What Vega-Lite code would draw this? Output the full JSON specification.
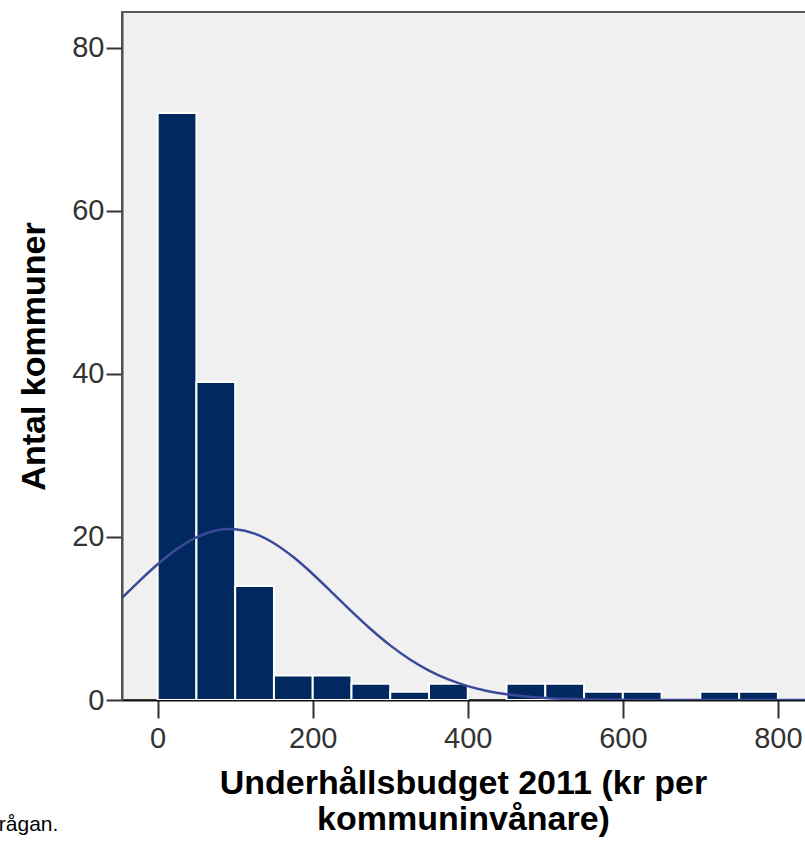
{
  "$schema": "https://vega.github.io/schema/vega-lite/v6.json",
  "width": 690,
  "height": 688,
  "autosize": {"type": "none"},
  "padding": {"left": 122, "top": 12, "right": 0, "bottom": 147},
  "background": "white",
  "config": {
    "view": {"fill": "#f0f0f0", "stroke": "#5c5c5c", "strokeWidth": 2},
    "font": "Liberation Sans"
  },
  "title": {
    "text": "frågan.",
    "orient": "bottom",
    "anchor": "start",
    "frame": "group",
    "dx": -129,
    "offset": -22,
    "fontSize": 21,
    "fontWeight": "normal",
    "color": "#000000"
  },
  "datasets": {
    "bins": [
      {"start": 0, "end": 50, "count": 72},
      {"start": 50, "end": 100, "count": 39},
      {"start": 100, "end": 150, "count": 14},
      {"start": 150, "end": 200, "count": 3},
      {"start": 200, "end": 250, "count": 3},
      {"start": 250, "end": 300, "count": 2},
      {"start": 300, "end": 350, "count": 1},
      {"start": 350, "end": 400, "count": 2},
      {"start": 450, "end": 500, "count": 2},
      {"start": 500, "end": 550, "count": 2},
      {"start": 550, "end": 600, "count": 1},
      {"start": 600, "end": 650, "count": 1},
      {"start": 700, "end": 750, "count": 1},
      {"start": 750, "end": 800, "count": 1}
    ],
    "curve": [
      {"x": -46, "y": 12.53},
      {"x": -25, "y": 14.47},
      {"x": 0, "y": 16.65},
      {"x": 25, "y": 18.54},
      {"x": 50, "y": 19.96},
      {"x": 75, "y": 20.79},
      {"x": 93, "y": 20.97},
      {"x": 100, "y": 20.94},
      {"x": 125, "y": 20.41},
      {"x": 150, "y": 19.23},
      {"x": 175, "y": 17.53},
      {"x": 200, "y": 15.46},
      {"x": 225, "y": 13.18},
      {"x": 250, "y": 10.88},
      {"x": 275, "y": 8.68},
      {"x": 300, "y": 6.7},
      {"x": 325, "y": 5.0},
      {"x": 350, "y": 3.61},
      {"x": 375, "y": 2.52},
      {"x": 400, "y": 1.7},
      {"x": 425, "y": 1.11},
      {"x": 450, "y": 0.7},
      {"x": 475, "y": 0.43},
      {"x": 500, "y": 0.25},
      {"x": 525, "y": 0.145},
      {"x": 550, "y": 0.08},
      {"x": 600, "y": 0.022},
      {"x": 650, "y": 0.005},
      {"x": 700, "y": 0.001},
      {"x": 844, "y": 0}
    ]
  },
  "layer": [
    {
      "data": {"name": "bins"},
      "mark": {"type": "bar", "fill": "#01285f", "stroke": "white", "strokeWidth": 2, "clip": true},
      "encoding": {
        "x": {
          "field": "start",
          "type": "quantitative",
          "scale": {"domain": [-46, 844], "nice": false, "zero": false},
          "axis": {
            "values": [0, 200, 400, 600, 800],
            "grid": false,
            "tickSize": 18,
            "tickWidth": 2,
            "tickColor": "#333333",
            "labelFont": "Liberation Sans",
            "labelFontSize": 29,
            "labelColor": "#333333",
            "labelPadding": 6,
            "labelFlush": false,
            "domainColor": "#111111",
            "domainWidth": 2,
            "title": ["Underhållsbudget 2011 (kr per", "kommuninvånare)"],
            "titleFontSize": 34,
            "titleFontWeight": "bold",
            "titleColor": "#000000",
            "titlePadding": 13,
            "titleLineHeight": 36,
            "titleX": 341
          }
        },
        "x2": {"field": "end"},
        "y": {
          "field": "count",
          "type": "quantitative",
          "scale": {"domain": [0, 84.4], "nice": false},
          "axis": {
            "values": [0, 20, 40, 60, 80],
            "grid": false,
            "tickSize": 16,
            "tickWidth": 2,
            "tickColor": "#333333",
            "labelFont": "Liberation Sans",
            "labelFontSize": 29,
            "labelColor": "#333333",
            "labelPadding": 2,
            "domainColor": "#4d4d4d",
            "domainWidth": 2,
            "title": "Antal kommuner",
            "titleFontSize": 34,
            "titleFontWeight": "bold",
            "titleColor": "#000000",
            "titlePadding": 20
          }
        },
        "y2": {"datum": 0}
      }
    },
    {
      "data": {"name": "curve"},
      "mark": {"type": "line", "color": "#3b4a98", "strokeWidth": 2.5, "interpolate": "monotone", "clip": true},
      "encoding": {
        "x": {"field": "x", "type": "quantitative"},
        "y": {"field": "y", "type": "quantitative"}
      }
    }
  ]
}
